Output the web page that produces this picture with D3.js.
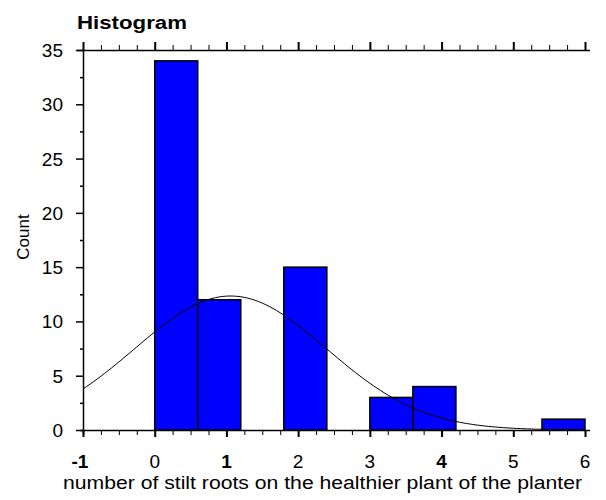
<!DOCTYPE html>
<html lang="en">
<head>
    <meta charset="UTF-8">
    <title>Histogram</title>
    <script src="https://d3js.org/d3.v7.min.js"></script>
    <style>
        body { margin: 0; background: #fff; }
        svg { display: block; }
        text { font-family: "Liberation Sans", Arial, sans-serif; fill: #000; }
    </style>
</head>
<body>
    <svg width="606" height="500"></svg>
    <script>
        // histogram bins (left edge, count), bin width 0.6
        const binStarts = [0, 0.6, 1.8, 3.0, 3.6, 5.4];
        const binCounts = [34, 12, 15, 3, 4, 1];
        const binWidth = 0.6;
        // raw values behind the bins (integer counts of stilt roots)
        const rawValues = [0, 1, 2, 3, 4, 6];
        const rawFreq = [34, 12, 15, 3, 4, 1];

        const xTicks = [-1, 0, 1, 2, 3, 4, 5, 6];
        const boldTicks = [-1, 1, 4];
        const yTicks = [0, 5, 10, 15, 20, 25, 30, 35];

        const svg = d3.select("svg");
        const x = d3.scaleLinear().domain([-1, 6]).range([83, 585]);
        const y = d3.scaleLinear().domain([0, 35]).range([430, 50]);

        // normal curve fitted to the raw values
        const n = d3.sum(rawFreq);
        const mean = d3.sum(rawValues, (v, i) => v * rawFreq[i]) / n;
        const sd = Math.sqrt(d3.sum(rawValues, (v, i) => rawFreq[i] * (v - mean) ** 2) / (n - 1));
        const curve = d3.range(-1, 6.001, 0.05).map(v => [v,
            n * binWidth * Math.exp(-0.5 * ((v - mean) / sd) ** 2) / (sd * Math.sqrt(2 * Math.PI))]);

        // bars
        svg.append("g").selectAll("rect")
            .data(binStarts)
            .join("rect")
            .attr("x", d => x(d))
            .attr("y", (d, i) => y(binCounts[i]))
            .attr("width", d => x(d + binWidth) - x(d))
            .attr("height", (d, i) => y(0) - y(binCounts[i]))
            .attr("fill", "#0000ff")
            .attr("stroke", "#000")
            .attr("stroke-width", 1.5);

        svg.append("path")
            .datum(curve)
            .attr("fill", "none")
            .attr("stroke", "#000")
            .attr("stroke-width", 1)
            .attr("d", d3.line().x(d => x(d[0])).y(d => y(d[1])));

        const minorX = d3.range(-1, 6.001, 0.25);
        const minorY = d3.range(0, 35.001, 2.5);

        // bottom axis
        const bottomAxis = svg.append("g").attr("transform", `translate(0,${y(0)})`)
            .call(d3.axisBottom(x).tickValues(minorX).tickSize(5).tickFormat(""));
        bottomAxis.select(".domain").attr("d", `M${x(-1) - 3},0.5H${x(6) + 5}`).attr("stroke-width", 1.5);
        bottomAxis.selectAll(".tick line").attr("stroke-width", d => Number.isInteger(d) ? 2 : 1)
            .attr("y2", d => Number.isInteger(d) ? 7 : 5);

        svg.append("g").selectAll("text")
            .data(xTicks)
            .join("text")
            .attr("x", d => x(d) + (d < 0 ? -3 : 0))
            .attr("y", 468)
            .attr("text-anchor", "middle")
            .attr("font-size", 19)
            .attr("font-weight", d => boldTicks.includes(d) ? "bold" : "normal")
            .text(d => d);

        // top axis
        const topAxis = svg.append("g").attr("transform", `translate(0,${y(35)})`)
            .call(d3.axisTop(x).tickValues(minorX).tickSize(5).tickFormat(""));
        topAxis.select(".domain").attr("d", `M${x(-1) - 6},0.5H${x(6) + 5}`).attr("stroke-width", 1.5);
        topAxis.selectAll(".tick line").attr("stroke-width", d => Number.isInteger(d) ? 2 : 1)
            .attr("y2", d => Number.isInteger(d) ? -8 : -5);

        // left axis
        const leftAxis = svg.append("g").attr("transform", `translate(${x(-1)},0)`)
            .call(d3.axisLeft(y).tickValues(minorY).tickSize(4).tickFormat(""));
        leftAxis.select(".domain").attr("d", `M0.5,${y(35)}V${y(0) + 4}`).attr("stroke-width", 1.5);
        leftAxis.selectAll(".tick line").attr("stroke-width", 1.5)
            .attr("x2", d => d % 5 === 0 ? -7 : -3);

        svg.append("g").selectAll("text")
            .data(yTicks)
            .join("text")
            .attr("x", x(-1) - 20)
            .attr("y", d => y(d) + 7)
            .attr("text-anchor", "end")
            .attr("font-size", 19)
            .text(d => d);

        svg.append("text")
            .attr("x", 77).attr("y", 29)
            .attr("font-size", 18).attr("font-weight", "bold")
            .attr("textLength", 110)
            .attr("lengthAdjust", "spacingAndGlyphs")
            .text("Histogram");

        svg.append("text")
            .attr("transform", "translate(29,237) rotate(-90)")
            .attr("text-anchor", "middle")
            .attr("font-size", 17)
            .text("Count");

        svg.append("text")
            .attr("x", 63).attr("y", 489)
            .attr("font-size", 18)
            .attr("textLength", 519)
            .attr("lengthAdjust", "spacingAndGlyphs")
            .text("number of stilt roots on the healthier plant of the planter");
    </script>
</body>
</html>
